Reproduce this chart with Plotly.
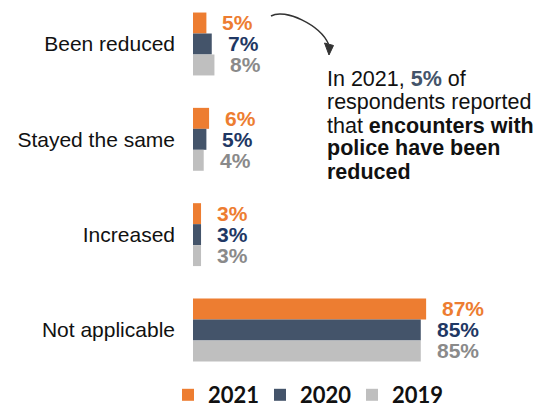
import plotly.graph_objects as go

# Survey responses: change in encounters with police
categories = ["Been reduced", "Stayed the same", "Increased", "Not applicable"]
years = ["2021", "2020", "2019"]
v2021 = [5, 6, 3, 87]
v2020 = [7, 5, 3, 85]
v2019 = [8, 4, 3, 85]
series = [v2021, v2020, v2019]

bar_colors = ["#ED7D31", "#44546A", "#BFBFBF"]
label_colors = ["#ED7D31", "#1F3864", "#8A8A8A"]

W, H = 536, 409
ML, MT, MB = 193, 0, 31
PW, PH = W - ML, H - MT - MB

FONT = "Liberation Sans, Arial, sans-serif"


def px_x(px):
    return (px - ML) / PW


def px_y(py):
    return 1 - (py - MT) / PH


fig = go.Figure()
for name, vals, col in zip(years, series, bar_colors):
    fig.add_trace(go.Bar(
        y=categories, x=vals, name=name, orientation="h",
        marker=dict(color=col, line=dict(width=0)),
        hoverinfo="skip",
    ))

# value labels to the right of each bar
shifts = [21, 0, -21]
annotations = []
for vals, col, ys in zip(series, label_colors, shifts):
    for cat, v in zip(categories, vals):
        annotations.append(dict(
            x=v, y=cat, xref="x", yref="y", text=f"<b>{v}%</b>",
            showarrow=False, xanchor="left", yanchor="middle",
            xshift=14, yshift=ys,
            font=dict(family=FONT, size=21, color=col),
        ))

# callout text
callout = [
    f"In 2021, <span style='color:#44546A'><b>{v2021[0]}%</b></span> of",
    "respondents reported",
    "that <b>encounters with</b>",
    "<b>police have been</b>",
    "<b>reduced</b>",
]
line_centers = [78.5, 101.5, 125.5, 148.5, 171.5]
for txt, cy in zip(callout, line_centers):
    annotations.append(dict(
        x=px_x(325), y=px_y(cy), xref="paper", yref="paper", text=txt,
        showarrow=False, xanchor="left", yanchor="middle",
        font=dict(family=FONT, size=21.5, color="#111111"),
    ))

# curved arrow pointing at the callout
p0, c1, c2, p3 = (271, 16), (285, 8), (320, 25), (328.5, 44)
curve = "M {},{} C {},{} {},{} {},{}".format(
    px_x(p0[0]), px_y(p0[1]), px_x(c1[0]), px_y(c1[1]),
    px_x(c2[0]), px_y(c2[1]), px_x(p3[0]), px_y(p3[1]))
head_pts = [(329, 55), (324.5, 43), (333.5, 45.5)]
head = "M {},{} L {},{} L {},{} Z".format(
    *[c for p in head_pts for c in (px_x(p[0]), px_y(p[1]))])
shapes = [
    dict(type="path", path=curve, xref="paper", yref="paper",
         line=dict(color="#333333", width=1.5)),
    dict(type="path", path=head, xref="paper", yref="paper",
         fillcolor="#333333", line=dict(color="#333333", width=1)),
]

fig.update_layout(
    width=W, height=H,
    margin=dict(l=ML, r=0, t=MT, b=MB, pad=0, autoexpand=False),
    paper_bgcolor="white", plot_bgcolor="white",
    barmode="group", bargap=0.34, bargroupgap=0,
    showlegend=True,
    legend=dict(
        orientation="h", x=px_x(168), y=px_y(416), xanchor="left", yanchor="bottom",
        font=dict(family="Lato, sans-serif", size=22, color="#111111", weight="bold"),
        entrywidth=47, entrywidthmode="pixels", traceorder="normal",
        bgcolor="rgba(0,0,0,0)",
    ),
    xaxis=dict(range=[0, 128], visible=False, fixedrange=True),
    yaxis=dict(
        type="category", categoryorder="array", categoryarray=categories,
        range=[3.504, -0.4615], showgrid=False, zeroline=False, showline=False,
        ticks="", ticklabelstandoff=17, automargin=False,
        tickfont=dict(family=FONT, size=21, color="#111111"),
    ),
    annotations=annotations,
    shapes=shapes,
)

fig.write_html("out.html")
